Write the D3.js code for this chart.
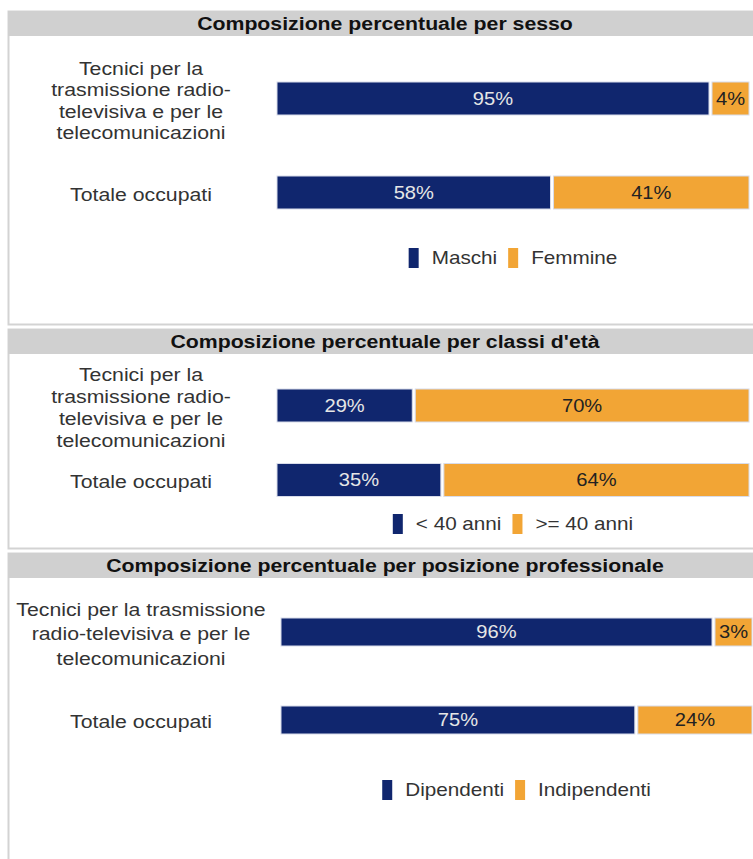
<!DOCTYPE html>
<html>
<head>
<meta charset="utf-8">
<script src="https://cdn.jsdelivr.net/npm/d3@7"></script>
<style>
  body { margin: 0; background: #fff; }
  text { font-family: "Liberation Sans", Arial, sans-serif; }
</style>
</head>
<body>
<svg id="chart"></svg>
<script>
// data
const titles = [
  "Composizione percentuale per sesso",
  "Composizione percentuale per classi d'età",
  "Composizione percentuale per posizione professionale",
];
const categories = ["Tecnici", "Totale"];
const categoryLinesA = [
  ["Tecnici per la", "trasmissione radio-", "televisiva e per le", "telecomunicazioni"],
  ["Totale occupati"],
];
const categoryLinesB = [
  ["Tecnici per la trasmissione", "radio-televisiva e per le", "telecomunicazioni"],
  ["Totale occupati"],
];
const sessoSeries = ["Maschi", "Femmine"];
const sessoValues = [[95, 4], [58, 41]];
const etaSeries = ["< 40 anni", ">= 40 anni"];
const etaValues = [[29, 70], [35, 64]];
const posSeries = ["Dipendenti", "Indipendenti"];
const posValues = [[96, 3], [75, 24]];
const colors = ["#10266e", "#f2a535"];

const width = 753;
const height = 859;
const SX = 1.15; // the source text is drawn a bit wide
const minSeg = 37;
const gap = 3;

const svg = d3.select("#chart").attr("width", width).attr("height", height);

function wideText(g, x, y, str, size, anchor) {
  return g
    .append("text")
    .attr("transform", "translate(" + x + "," + y + ") scale(" + SX + ",1)")
    .attr("text-anchor", anchor || "middle")
    .attr("dy", "0.35em")
    .style("font-size", size + "px")
    .text(str);
}

const panels = [
  { title: titles[0], series: sessoSeries, values: sessoValues, lines: categoryLinesA,
    top: 11, bottom: 324, rows: [98.5, 192.5], barH: 33, x0: 277, x1: 749, lh: 21.5, legendY: 258 },
  { title: titles[1], series: etaSeries, values: etaValues, lines: categoryLinesA,
    top: 329, bottom: 548, rows: [405.5, 480], barH: 33, x0: 277, x1: 749, lh: 21.8, legendY: 524 },
  { title: titles[2], series: posSeries, values: posValues, lines: categoryLinesB,
    top: 553, bottom: 900, rows: [632, 720], barH: 28, x0: 281, x1: 752, lh: 24.5, legendY: 790 },
];

panels.forEach(function (p) {
  const g = svg.append("g");

  // frame + header
  g.append("rect")
    .attr("x", 8.5).attr("y", p.top + 0.5)
    .attr("width", width + 10).attr("height", p.bottom - p.top)
    .attr("fill", "#fff").attr("stroke", "#d3d3d3").attr("stroke-width", 2);
  g.append("rect")
    .attr("x", 8).attr("y", p.top)
    .attr("width", width - 8).attr("height", 25)
    .attr("fill", "#d0d0d0");
  wideText(g, 385, p.top + 13, p.title, 18.5)
    .style("font-weight", "bold").attr("fill", "#111");

  const y = d3.scalePoint().domain(categories).range(p.rows);
  const x = d3.scaleLinear()
    .domain([0, d3.sum(p.values[0])])
    .range([p.x0, p.x1]);

  // category labels
  categories.forEach(function (c, i) {
    const lines = p.lines[i];
    const cy = y(c) + 2;
    lines.forEach(function (l, j) {
      wideText(g, 141, cy + (j - (lines.length - 1) / 2) * p.lh, l, 18.5).attr("fill", "#333");
    });
  });

  // stacked bars, tiny segments get a minimum width so the label fits
  categories.forEach(function (c, i) {
    const vals = p.values[i];
    const total = d3.sum(vals);
    const xs = d3.scaleLinear().domain([0, total]).range([p.x0, p.x1]);
    let w = vals.map((v) => xs(v) - xs(0));
    const short = w.map((d) => d < minSeg);
    const extra = d3.sum(w, (d, k) => (short[k] ? minSeg - d : 0));
    const big = d3.maxIndex(w);
    w = w.map((d, k) => (short[k] ? minSeg : k === big ? d - extra : d));
    let cur = p.x0;
    const segs = w.map(function (d, k) {
      const s = { x: cur, w: k < w.length - 1 ? d - gap : d, v: vals[k], k: k };
      cur += d;
      return s;
    });

    g.selectAll(null)
      .data(segs)
      .enter()
      .append("rect")
      .attr("x", (d) => d.x)
      .attr("y", y(c) - p.barH / 2)
      .attr("width", (d) => d.w)
      .attr("height", p.barH)
      .attr("fill", (d) => colors[d.k])
      .attr("stroke", "#d8dcea")
      .attr("stroke-width", 1);

    segs.forEach(function (d) {
      wideText(g, d.x + d.w / 2, y(c), d.v + "%", 17.5)
        .attr("fill", d.k === 0 ? "#e6e6e6" : "#222");
    });
  });

  // legend, centred on the bar area
  const leg = g.append("g");
  let lx = 0;
  p.series.forEach(function (s, k) {
    leg.append("rect")
      .attr("x", lx).attr("y", p.legendY - 10)
      .attr("width", 10).attr("height", 20)
      .attr("fill", colors[k]);
    const t = wideText(leg, lx + 23, p.legendY, s, 18, "start").attr("fill", "#333");
    lx += 23 + t.node().getComputedTextLength() * SX + 11;
  });
  lx -= 11;
  leg.attr("transform", "translate(" + ((p.x0 + p.x1) / 2 - lx / 2) + ",0)");
});
</script>
</body>
</html>
